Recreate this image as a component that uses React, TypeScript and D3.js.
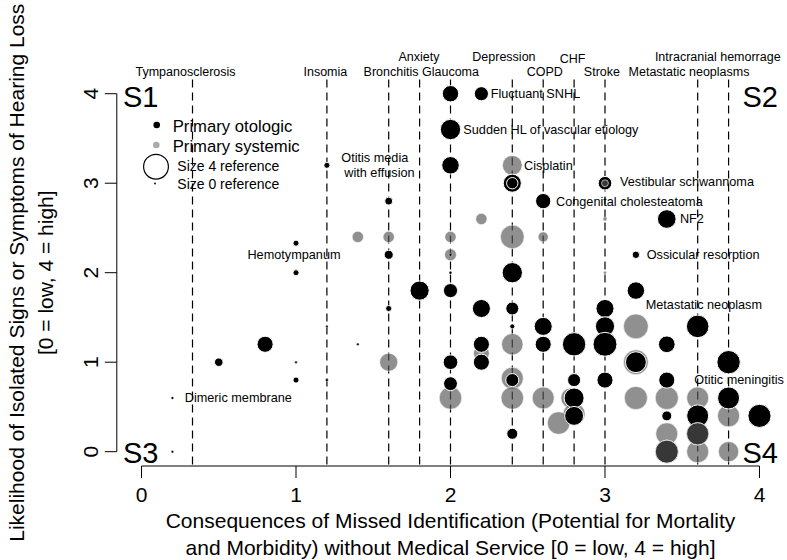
import React, { useEffect, useRef } from 'react';
import * as d3 from 'd3';

// axis ticks
const xTicks = [0, 1, 2, 3, 4];
const yTicks = [0, 1, 2, 3, 4];

// systemic conditions drawn as dashed lines (x = consequence score)
const conditionNames = ['Tympanosclerosis', 'Insomia', 'Bronchitis', 'Anxiety', 'Glaucoma', 'Depression', 'COPD', 'CHF', 'Stroke', 'Metastatic neoplasms', 'Intracranial hemorrage'];
const conditionX = [0.33, 1.2, 1.6, 1.8, 2.0, 2.4, 2.6, 2.8, 3.0, 3.6, 3.8];
const conditionLabelX = [0.285, 1.19, 1.615, 1.796, 2.0, 2.346, 2.61, 2.79, 2.98, 3.544, 3.73];
const conditionRow = [0, 0, 0, 1, 0, 1, 0, 0.85, 0, 0, 1];

// [consequence, likelihood, size, group]  o = primary otologic, s = primary systemic
// listed in plotting order
const points: [number, number, number, string][] = [
  [2.4, 3.2, 3.1, 's'], [2.2, 2.6, 1.6, 's'], [3.0, 2.6, 0.3, 's'], [1.4, 2.4, 1.6, 's'],
  [1.6, 2.4, 1.6, 's'], [2.0, 2.4, 1.6, 's'], [2.4, 2.4, 3.8, 's'], [2.6, 2.4, 1.4, 's'],
  [2.0, 2.2, 1.7, 's'], [3.0, 2.0, 0.1, 's'], [3.2, 1.4, 4.0, 's'], [2.4, 1.2, 3.4, 's'],
  [1.6, 1.0, 2.8, 's'], [2.2, 1.1, 2.4, 's'], [3.2, 1.0, 4.0, 's'], [2.4, 0.82, 3.5, 's'],
  [2.0, 0.6, 3.6, 's'], [2.4, 0.6, 3.6, 's'], [2.6, 0.6, 3.5, 's'], [2.78, 0.6, 3.2, 's'],
  [3.2, 0.6, 3.7, 's'], [3.4, 0.6, 3.7, 's'], [3.6, 0.6, 3.5, 's'], [2.8, 0.42, 3.5, 's'],
  [2.7, 0.32, 3.6, 's'], [3.8, 0.4, 3.5, 's'], [3.4, 0.2, 3.5, 's'], [3.6, 0.0, 3.5, 's'],
  [3.8, 0.0, 3.2, 's'],
  [2.0, 4.0, 2.5, 'o'], [2.2, 4.0, 2.1, 'o'], [2.0, 3.6, 3.2, 'o'], [2.0, 3.2, 2.7, 'o'],
  [1.2, 3.2, 0.65, 'o'], [2.4, 3.0, 2.8, 'o'], [2.4, 3.0, 1.6, 'o'], [3.0, 3.0, 2.0, 'o'],
  [1.6, 2.8, 1.0, 'o'], [2.6, 2.8, 2.3, 'o'], [3.4, 2.6, 2.9, 'o'], [1.0, 2.33, 0.65, 'o'],
  [1.6, 2.2, 1.2, 'o'], [2.0, 2.2, 0.1, 'o'], [3.2, 2.2, 0.9, 'o'], [1.0, 2.0, 0.65, 'o'],
  [2.0, 2.0, 0.1, 'o'], [2.4, 2.0, 3.2, 'o'], [1.8, 1.8, 3.0, 'o'], [2.0, 1.8, 2.1, 'o'],
  [3.2, 1.8, 2.7, 'o'], [1.6, 1.6, 0.65, 'o'], [2.2, 1.6, 2.8, 'o'], [2.4, 1.6, 1.9, 'o'],
  [3.0, 1.6, 2.8, 'o'], [1.2, 1.4, 0, 'o'], [2.4, 1.4, 0.45, 'o'], [2.6, 1.4, 2.8, 'o'],
  [3.0, 1.4, 3.0, 'o'], [3.6, 1.4, 3.6, 'o'], [0.8, 1.2, 2.45, 'o'], [1.4, 1.2, 0, 'o'],
  [2.2, 1.2, 2.45, 'o'], [2.6, 1.2, 2.45, 'o'], [2.8, 1.2, 3.75, 'o'], [3.0, 1.2, 3.85, 'o'],
  [3.4, 1.2, 2.55, 'o'], [0.5, 1.0, 1.1, 'o'], [1.0, 1.0, 0, 'o'], [2.0, 1.0, 2.2, 'o'],
  [2.2, 1.0, 2.45, 'o'], [3.2, 1.0, 3.3, 'o'], [3.8, 1.0, 3.75, 'o'], [1.0, 0.8, 0.65, 'o'],
  [1.2, 0.8, 0.1, 'o'], [2.0, 0.76, 2.05, 'o'], [2.4, 0.8, 1.9, 'o'], [2.8, 0.8, 1.9, 'o'],
  [3.0, 0.8, 2.45, 'o'], [3.4, 0.8, 2.45, 'o'], [0.2, 0.6, 0.05, 'o'], [2.8, 0.6, 3.15, 'o'],
  [3.8, 0.6, 3.5, 'o'], [2.8, 0.4, 2.95, 'o'], [3.4, 0.4, 1.35, 'o'], [3.6, 0.4, 3.5, 'o'],
  [4.0, 0.4, 3.7, 'o'], [2.4, 0.2, 1.55, 'o'], [3.6, 0.2, 3.5, 'o'], [0.2, 0.0, 0, 'o'],
  [3.4, 0.0, 3.7, 'o'],
  [3.6, 0.2, 3.6, 's'], [3.4, 0.0, 3.7, 's'], [3.0, 3.0, 0.8, 's'],
];

// point labels: text, x, y, anchor
const annotations: [string, number, number, string][] = [
  ['Fluctuant SNHL', 2.26, 4.0, 'start'],
  ['Sudden HL of vascular etiology', 2.083, 3.6, 'start'],
  ['Cisplatin', 2.476, 3.2, 'start'],
  ['Vestibular schwannoma', 3.097, 3.02, 'start'],
  ['Congenital cholesteatoma', 2.683, 2.8, 'start'],
  ['NF2', 3.485, 2.6, 'start'],
  ['Ossicular resorption', 3.27, 2.2, 'start'],
  ['Metastatic neoplasm', 3.64, 1.64, 'middle'],
  ['Otitic meningitis', 3.578, 0.81, 'start'],
  ['Dimeric membrane', 0.28, 0.6, 'start'],
  ['Hemotympanum', 0.987, 2.2, 'middle'],
  ['Otitis media', 1.51, 3.29, 'middle'],
  ['with effusion', 1.54, 3.12, 'middle'],
];

const quadrants = ['S1', 'S2', 'S3', 'S4'];
const legendLabels = ['Primary otologic', 'Primary systemic', 'Size 4 reference', 'Size 0 reference'];

const xTitle = ['Consequences of Missed Identification (Potential for Mortality', 'and Morbidity) without Medical Service [0 = low, 4 = high]'];
const yTitle = ['Likelihood of Isolated Signs or Symptoms of Hearing Loss', '[0 = low, 4 = high]'];

const FONT = '"Liberation Sans", Arial, Helvetica, sans-serif';
const W = 787;
const H = 560;

const radius = (s: number) => 1.2 + 2.8 * s;

const App = () => {
  const svgRef = useRef<SVGSVGElement>(null);

  useEffect(() => {
    const svg = d3.select(svgRef.current);
    svg.selectAll('*').remove();

    const x = d3.scaleLinear().domain([-0.16, 4.16]).range([116.8, 784.2]);
    const y = d3.scaleLinear().domain([-0.16, 4.16]).range([466, 79.4]);

    // dashed condition lines
    svg.append('g')
      .selectAll('line')
      .data(conditionX)
      .join('line')
      .attr('x1', d => x(d)).attr('x2', d => x(d))
      .attr('y1', y(4.16)).attr('y2', y(-0.16))
      .attr('stroke', '#000')
      .attr('stroke-width', 1.2)
      .attr('stroke-dasharray', '8,5');

    svg.append('g')
      .selectAll('text')
      .data(conditionNames)
      .join('text')
      .attr('x', (d, i) => x(conditionLabelX[i]))
      .attr('y', (d, i) => 75.5 - conditionRow[i] * 15)
      .attr('text-anchor', 'middle')
      .attr('font-size', 12.5)
      .text(d => d);

    // points
    svg.append('g')
      .selectAll('circle')
      .data(points)
      .join('circle')
      .attr('cx', d => x(d[0]))
      .attr('cy', d => y(d[1]))
      .attr('r', d => radius(d[2]))
      .attr('fill', d => (d[3] === 'o' ? '#000' : '#555'))
      .attr('fill-opacity', d => (d[3] === 'o' ? 1 : 0.65))
      .attr('stroke', '#fff')
      .attr('stroke-opacity', d => (d[3] === 'o' ? 1 : 0.6))
      .attr('stroke-width', d => Math.min(1, radius(d[2]) * 0.3));

    // point labels
    svg.append('g')
      .selectAll('text')
      .data(annotations)
      .join('text')
      .attr('x', d => x(d[1]))
      .attr('y', d => y(d[2]))
      .attr('dy', '0.35em')
      .attr('text-anchor', d => d[3])
      .attr('font-size', 12.7)
      .text(d => d[0]);

    // quadrant labels
    const qPos: [number, number, string][] = [[123, 106.7, 'start'], [778, 106.7, 'end'], [123, 462.5, 'start'], [778, 462.5, 'end']];
    svg.append('g')
      .selectAll('text')
      .data(quadrants)
      .join('text')
      .attr('x', (d, i) => qPos[i][0])
      .attr('y', (d, i) => qPos[i][1])
      .attr('text-anchor', (d, i) => qPos[i][2])
      .attr('font-size', 29)
      .text(d => d);

    // x axis
    const gx = svg.append('g').attr('transform', `translate(0, ${y(-0.16)})`);
    gx.append('line').attr('x1', x(0)).attr('x2', x(4)).attr('stroke', '#000');
    gx.selectAll('line.tick')
      .data(xTicks)
      .join('line')
      .attr('class', 'tick')
      .attr('x1', d => x(d)).attr('x2', d => x(d))
      .attr('y1', 0).attr('y2', 12)
      .attr('stroke', '#000');
    gx.selectAll('text')
      .data(xTicks)
      .join('text')
      .attr('x', d => x(d))
      .attr('y', 36)
      .attr('text-anchor', 'middle')
      .attr('font-size', 21)
      .text(d => d);

    // y axis
    const gy = svg.append('g').attr('transform', `translate(${x(-0.16)}, 0)`);
    gy.append('line').attr('y1', y(0)).attr('y2', y(4)).attr('stroke', '#000');
    gy.selectAll('line.tick')
      .data(yTicks)
      .join('line')
      .attr('class', 'tick')
      .attr('y1', d => y(d)).attr('y2', d => y(d))
      .attr('x1', 0).attr('x2', -12)
      .attr('stroke', '#000');
    gy.selectAll('text')
      .data(yTicks)
      .join('text')
      .attr('transform', d => `translate(-19, ${y(d)}) rotate(-90)`)
      .attr('text-anchor', 'middle')
      .attr('font-size', 21)
      .text(d => d);

    // axis titles
    svg.append('g')
      .selectAll('text')
      .data(xTitle)
      .join('text')
      .attr('x', (x(-0.16) + x(4.16)) / 2)
      .attr('y', (d, i) => 528 + i * 27)
      .attr('text-anchor', 'middle')
      .attr('font-size', 21)
      .text(d => d);

    svg.append('g')
      .selectAll('text')
      .data(yTitle)
      .join('text')
      .attr('transform', (d, i) => `translate(${24 + i * 29}, ${(y(-0.16) + y(4.16)) / 2}) rotate(-90)`)
      .attr('text-anchor', 'middle')
      .attr('font-size', 21)
      .text(d => d);

    // legend
    const lg = svg.append('g');
    lg.append('circle').attr('cx', 156.7).attr('cy', 125).attr('r', 3.3).attr('fill', '#000');
    lg.append('circle').attr('cx', 156.3).attr('cy', 145).attr('r', 3.3).attr('fill', '#555').attr('fill-opacity', 0.5);
    lg.append('circle').attr('cx', 156).attr('cy', 166.7).attr('r', radius(4)).attr('fill', 'none').attr('stroke', '#000').attr('stroke-width', 1.2);
    lg.append('circle').attr('cx', 155).attr('cy', 183.5).attr('r', 0.9).attr('fill', '#000');
    lg.selectAll('text')
      .data(legendLabels)
      .join('text')
      .attr('x', (d, i) => (i < 2 ? 172.7 : 177.3))
      .attr('y', (d, i) => [131.7, 151.7, 170.7, 188.7][i])
      .attr('font-size', (d, i) => (i < 2 ? 16.7 : 14))
      .text(d => d);
  }, []);

  return (
    <svg
      ref={svgRef}
      width={W}
      height={H}
      style={{ position: 'absolute', left: 0, top: 0, background: '#fff', fontFamily: FONT }}
    />
  );
};

export default App;
